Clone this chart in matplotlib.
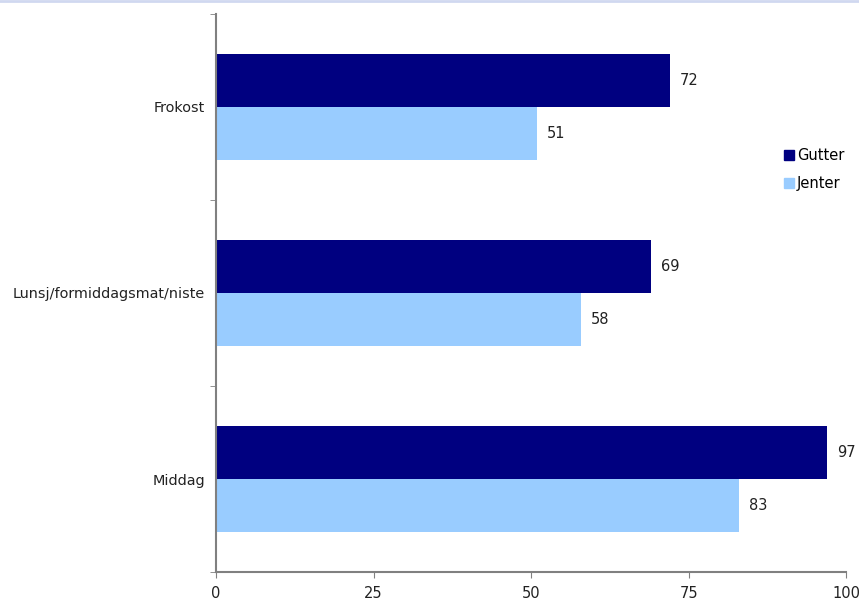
import numpy as np
import matplotlib
matplotlib.use('Agg')
import matplotlib.pyplot as plt
from matplotlib.lines import Line2D

categories = ['Frokost', 'Lunsj/formiddagsmat/niste', 'Middag']
gutter = [72, 69, 97]
jenter = [51, 58, 83]
xticks = [0, 25, 50, 75, 100]

plt.rcParams['font.family'] = ['DejaVu Sans']
fig = plt.figure(figsize=(8.59, 6.03), dpi=100)
ax = fig.add_axes([0.2515, 0.0514, 0.7335, 0.9254])

y = np.arange(len(categories))
h = 0.285
ax.barh(y - h/2, gutter, height=h, color='#000080', label='Gutter')
ax.barh(y + h/2, jenter, height=h, color='#99CCFF', label='Jenter')

for i in range(len(categories)):
	ax.annotate(str(gutter[i]), (gutter[i], y[i] - h/2), xytext=(7, 0),
		textcoords='offset points', va='center', ha='left', fontsize=10.5, color='#222222')
	ax.annotate(str(jenter[i]), (jenter[i], y[i] + h/2), xytext=(7, 0),
		textcoords='offset points', va='center', ha='left', fontsize=10.5, color='#222222')

ax.set_xlim(0, 100)
ax.set_ylim(2.5, -0.5)
ax.set_xticks(xticks)
ax.set_xticklabels([str(t) for t in xticks], fontsize=10.5, color='#222222')
ax.set_yticks(y)
ax.set_yticklabels(categories, fontsize=10.4, color='#222222')
ax.tick_params(axis='y', length=0, pad=8)
ax.tick_params(axis='x', length=4, color='#808080', pad=6)
# category boundary ticks on y axis
ax.set_yticks([-0.5, 0.5, 1.5, 2.5], minor=True)
ax.tick_params(axis='y', which='minor', length=4, color='#808080')

for s in ['top', 'right']:
	ax.spines[s].set_visible(False)
for s in ['left', 'bottom']:
	ax.spines[s].set_color('#808080')
	ax.spines[s].set_linewidth(1.5)

handles = [Line2D([], [], marker='s', linestyle='', color='#000080', markersize=7),
	Line2D([], [], marker='s', linestyle='', color='#99CCFF', markersize=7)]
ax.legend(handles, ['Gutter', 'Jenter'], loc='upper left', bbox_to_anchor=(0.88, 0.784),
	frameon=False, fontsize=10.5, handletextpad=0.1, handlelength=0.8, labelspacing=0.9)

fig.add_artist(Line2D([0, 1], [0.998, 0.998], color='#d0d8f0', linewidth=2))

fig.savefig('out.png', dpi=100)
